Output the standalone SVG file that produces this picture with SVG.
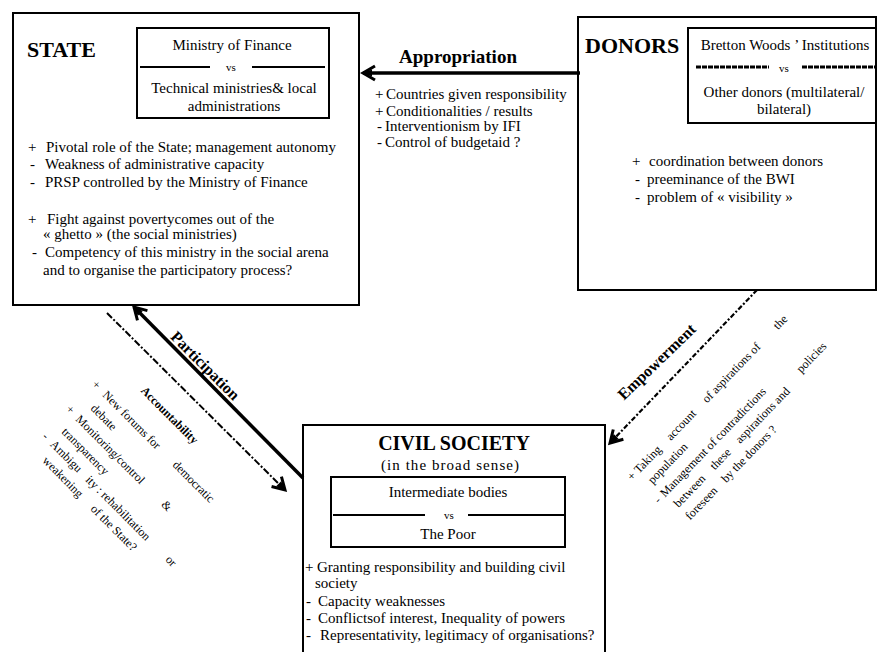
<svg xmlns="http://www.w3.org/2000/svg" width="878" height="652" viewBox="0 0 878 652">
<style>
text{font-family:"Liberation Serif","Times New Roman",serif;fill:#000}
.t{font-size:15px}
.s{font-size:12px}
.b{font-weight:bold}
.title{font-size:22px;font-weight:bold}
.box{fill:#fff;stroke:#000;stroke-width:2}
.sep{stroke:#000;stroke-width:2}
.vs{font-size:11px}
.mid{text-anchor:middle}
</style>
<defs>
<marker id="ah" viewBox="-16 -10 19 20" refX="0" refY="0" markerWidth="19" markerHeight="20" markerUnits="userSpaceOnUse" orient="auto">
<path d="M-12,-7 L0,0 L-12,7" fill="none" stroke="#000" stroke-width="3" stroke-linejoin="miter" stroke-miterlimit="10"/>
<path d="M0,0 L-9,-3.5 L-9,3.5 Z" fill="#000"/>
</marker>
</defs>

<g id="state">
<rect class="box" x="13" y="13" width="346" height="292"/>
<text class="title" x="27" y="57">STATE</text>
<rect class="box" x="137" y="28" width="192" height="90"/>
<text class="t mid" x="232" y="50">Ministry of Finance</text>
<line class="sep" x1="140" y1="67" x2="210" y2="67"/>
<line class="sep" x1="252" y1="67" x2="325" y2="67"/>
<text class="vs mid" x="231" y="71">vs</text>
<text class="t mid" x="234" y="93">Technical ministries&amp; local</text>
<text class="t mid" x="234" y="111">administrations</text>
<text class="t" x="28" y="152">+</text><text class="t" x="46" y="152">Pivotal role of the State; management autonomy</text>
<text class="t" x="30" y="169">-</text><text class="t" x="45" y="169">Weakness of administrative capacity</text>
<text class="t" x="30" y="187">-</text><text class="t" x="45" y="187">PRSP controlled by the Ministry of Finance</text>
<text class="t" x="28" y="224">+</text><text class="t" x="47" y="224">Fight against povertycomes out of the</text>
<text class="t" x="43" y="239">« ghetto » (the social ministries)</text>
<text class="t" x="32" y="257">-</text><text class="t" x="45" y="257">Competency of this ministry in the social arena</text>
<text class="t" x="43" y="275">and to organise the participatory process?</text>
</g>

<g id="donors">
<rect class="box" x="578" y="17" width="298" height="273"/>
<text class="title" x="585" y="53">DONORS</text>
<rect class="box" x="688" y="28" width="188" height="95"/>
<text class="t mid" x="785" y="50">Bretton Woods ’ Institutions</text>
<line x1="696" y1="67" x2="769" y2="67" stroke="#000" stroke-width="3" stroke-dasharray="5 1"/>
<line x1="802" y1="67" x2="876" y2="67" stroke="#000" stroke-width="3" stroke-dasharray="5 1"/>
<text class="vs mid" x="784" y="72">vs</text>
<text class="t mid" x="784" y="97">Other donors (multilateral/</text>
<text class="t mid" x="784" y="114">bilateral)</text>
<text class="t" x="632" y="166">+</text><text class="t" x="649" y="166">coordination between donors</text>
<text class="t" x="635" y="184">-</text><text class="t" x="647" y="184">preeminance of the BWI</text>
<text class="t" x="635" y="202">-</text><text class="t" x="647" y="202">problem of « visibility »</text>
</g>

<g id="civil-society">
<rect class="box" x="303" y="425" width="302" height="232"/>
<text class="mid" x="454" y="450" style="font-size:20px;font-weight:bold">CIVIL SOCIETY</text>
<text class="t mid" x="450" y="470" textLength="138" lengthAdjust="spacing">(in the broad sense)</text>
<rect class="box" x="331" y="477" width="234" height="70"/>
<text class="t mid" x="448" y="497">Intermediate bodies</text>
<line class="sep" x1="333" y1="515" x2="425" y2="515"/>
<line class="sep" x1="468" y1="515" x2="564" y2="515"/>
<text class="vs mid" x="449" y="519">vs</text>
<text class="t mid" x="448" y="539">The Poor</text>
<text class="t" x="305" y="572">+</text><text class="t" x="317" y="572">Granting responsibility and building civil</text>
<text class="t" x="315" y="588">society</text>
<text class="t" x="306" y="606">-</text><text class="t" x="318" y="606">Capacity weaknesses</text>
<text class="t" x="306" y="623">-</text><text class="t" x="318" y="623">Conflictsof interest, Inequality of powers</text>
<text class="t" x="306" y="640">-</text><text class="t" x="320" y="640">Representativity, legitimacy of organisations?</text>
</g>

<g id="connectors">
<line x1="580" y1="73" x2="363" y2="73" stroke="#000" stroke-width="3.5" marker-end="url(#ah)"/>
<line x1="303" y1="478" x2="134" y2="307" stroke="#000" stroke-width="3.5" marker-end="url(#ah)"/>
<line x1="107" y1="313" x2="285" y2="490" stroke="#000" stroke-width="2" stroke-dasharray="7 2 2 2" marker-end="url(#ah)"/>
<line x1="757" y1="290" x2="610" y2="443" stroke="#000" stroke-width="2.2" stroke-dasharray="5 2 2 2" marker-end="url(#ah)"/>
</g>

<g id="appropriation-label">
<text class="b mid" x="458" y="63" style="font-size:19px">Appropriation</text>
<text class="t" x="375" y="99">+</text><text class="t" x="386" y="99">Countries given responsibility</text>
<text class="t" x="375" y="116">+</text><text class="t" x="386" y="116">Conditionalities / results</text>
<text class="t" x="377" y="131">-</text><text class="t" x="385" y="131">Interventionism by IFI</text>
<text class="t" x="377" y="147">-</text><text class="t" x="385" y="147">Control of budgetaid ?</text>
</g>

<g id="participation-label">
<text class="b mid" transform="translate(205,366) rotate(45)" x="0" y="5" style="font-size:16px">Participation</text>
</g>

<g id="accountability-label" transform="translate(97,385) rotate(45)">
<text class="s b" x="35" y="-26">Accountability</text>
<text class="s" x="-4" y="4">+</text><text class="s" x="11" y="4">New forums for</text><text class="s" x="110" y="4">democratic</text>
<text class="s" x="12" y="22">debate</text>
<text class="s" x="-5" y="40">+</text><text class="s" x="9" y="40">Monitoring/control</text><text class="s" x="130" y="40">&amp;</text>
<text class="s" x="8" y="59">transparency</text>
<text class="s" x="-2" y="76">-</text><text class="s" x="9" y="76">Ambigu</text><text class="s" x="59" y="76">ity : rehabilitation</text><text class="s" x="172" y="76">or</text>
<text class="s" x="15" y="93">weakening</text><text class="s" x="83" y="93">of the State?</text>
</g>

<g id="empowerment-label">
<text class="b mid" transform="translate(657,362) rotate(-44)" x="0" y="5" style="font-size:16px">Empowerment</text>
<g transform="translate(632,477) rotate(-46)">
<text class="s" x="-3" y="3">+</text><text class="s" x="7" y="3">Taking</text><text class="s" x="53" y="3">account</text><text class="s" x="105" y="3">of aspirations of</text><text class="s" x="207" y="3">the</text>
<text class="s" x="9" y="20">population</text>
<text class="s" x="-1" y="38">-</text><text class="s" x="8" y="38">Management of contradictions</text>
<text class="s" x="10" y="55">between</text><text class="s" x="62" y="55">these</text><text class="s" x="99" y="55">aspirations and</text><text class="s" x="192" y="50">policies</text>
<text class="s" x="9" y="72">foreseen</text><text class="s" x="61" y="72">by the donors ?</text>
</g>
</g>
</svg>
